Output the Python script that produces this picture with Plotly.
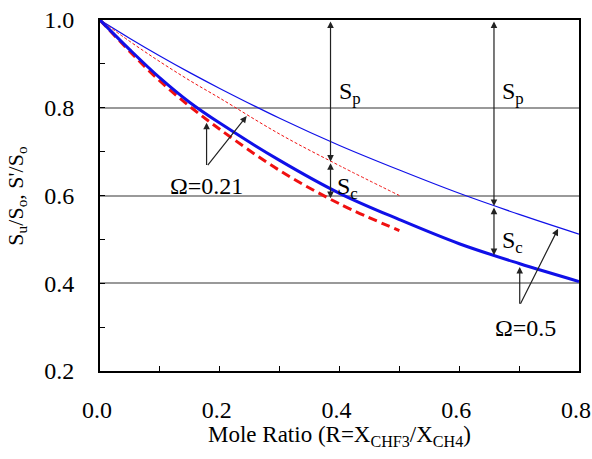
import plotly.graph_objects as go

# ---- data ----
R_full = [0.0, 0.05, 0.1, 0.15, 0.2, 0.3, 0.4, 0.5, 0.6, 0.7, 0.8]
Su_omega05 = [1.0, 0.932, 0.868, 0.812, 0.765, 0.680, 0.605, 0.545, 0.490, 0.445, 0.404]
Sp_omega05 = [1.0, 0.958, 0.918, 0.880, 0.844, 0.776, 0.714, 0.658, 0.605, 0.557, 0.512]

R_half = [0.0, 0.05, 0.1, 0.15, 0.2, 0.3, 0.4, 0.5]
Su_omega021 = [1.0, 0.928, 0.861, 0.803, 0.751, 0.657, 0.581, 0.520]
Sp_omega021 = [1.0, 0.951, 0.905, 0.862, 0.822, 0.740, 0.668, 0.600]

x_ticks = [0.0, 0.2, 0.4, 0.6, 0.8]
y_ticks = [0.2, 0.4, 0.6, 0.8, 1.0]

FONT = "Liberation Serif"
BLUE = "#1010e8"
RED = "#f01010"

fig = go.Figure()
fig.add_trace(go.Scatter(x=R_full, y=Sp_omega05, mode="lines", line=dict(color=BLUE, width=1.2, shape="spline")))
fig.add_trace(go.Scatter(x=R_half, y=Sp_omega021, mode="lines", line=dict(color=RED, width=1, dash="3px,2px", shape="spline")))
fig.add_trace(go.Scatter(x=R_half, y=Su_omega021, mode="lines", line=dict(color=RED, width=3, dash="9px,5px", shape="spline")))
fig.add_trace(go.Scatter(x=R_full, y=Su_omega05, mode="lines", line=dict(color=BLUE, width=3, shape="spline")))

ann = []

def arrow(x0, y0, x1, y1, both=False):
    ann.append(dict(x=x1, y=y1, ax=x0, ay=y0, xref="x", yref="y", axref="x", ayref="y",
                    text="", showarrow=True, arrowhead=2, arrowsize=1.1, arrowwidth=1.2,
                    arrowcolor="#222", standoff=0, startstandoff=0,
                    arrowside="end+start" if both else "end", startarrowhead=2, startarrowsize=1.1))

def label(x, y, t, anchor="left"):
    ann.append(dict(x=x, y=y, xref="x", yref="y", text=t, showarrow=False, xanchor=anchor,
                    yanchor="middle", font=dict(family=FONT, size=24, color="black")))

# Sp / Sc double arrows, Omega = 0.21
arrow(0.385, 1.0, 0.385, 0.677, both=True)
arrow(0.385, 0.677, 0.385, 0.594, both=True)
label(0.395, 0.834, "S<sub>p</sub>")
label(0.393, 0.617, "S<sub>c</sub>")
# Sp / Sc double arrows, Omega = 0.5
arrow(0.658, 1.0, 0.658, 0.576, both=True)
arrow(0.658, 0.576, 0.658, 0.464, both=True)
label(0.668, 0.834, "S<sub>p</sub>")
label(0.668, 0.494, "S<sub>c</sub>")
# Omega labels with pointers
arrow(0.178, 0.666, 0.178, 0.766)
arrow(0.178, 0.666, 0.245, 0.781)
label(0.178, 0.622, "Ω=0.21", anchor="center")
arrow(0.701, 0.350, 0.701, 0.437)
arrow(0.701, 0.350, 0.765, 0.524)
label(0.71, 0.298, "Ω=0.5", anchor="center")

# axis titles
ann.append(dict(x=0.5, y=-0.185, xref="paper", yref="paper", showarrow=False,
                text="Mole Ratio (R=X<sub>CHF3</sub>/X<sub>CH4</sub>)",
                font=dict(family=FONT, size=23, color="black"), xanchor="center", yanchor="middle"))
ann.append(dict(x=-0.175, y=0.5, xref="paper", yref="paper", showarrow=False, textangle=-90,
                text="S<sub>u</sub>/S<sub>o</sub>, S'/S<sub>o</sub>",
                font=dict(family=FONT, size=22, color="black"), xanchor="center", yanchor="middle"))

fig.update_layout(
    width=592, height=459, showlegend=False,
    margin=dict(l=100, r=13, t=20, b=88, autoexpand=False),
    paper_bgcolor="white", plot_bgcolor="white",
    font=dict(family=FONT, size=24, color="black"),
    annotations=ann,
)
fig.update_xaxes(range=[0, 0.8], tickvals=x_ticks, ticktext=[f"{v:.1f}" for v in x_ticks],
                 tickfont=dict(family=FONT, size=24),
                 showgrid=False, zeroline=False, showline=True, linecolor="black", linewidth=2,
                 mirror=True, ticks="inside", ticklen=5, tickcolor="black", tickwidth=1,
                 minor=dict(dtick=0.1, ticks="inside", ticklen=5, tickcolor="black", tickwidth=1, showgrid=False),
                 ticklabelstandoff=16, ticklabelshift=-3, automargin=False, ticklabeloverflow="allow")
fig.update_yaxes(range=[0.2, 1.0], tickvals=y_ticks, ticktext=[f"{v:.1f}" for v in y_ticks],
                 tickfont=dict(family=FONT, size=24),
                 showgrid=True, gridcolor="#999999", gridwidth=1.5, zeroline=False,
                 showline=True, linecolor="black", linewidth=2, mirror=True,
                 ticks="inside", ticklen=5, tickcolor="black", tickwidth=1,
                 minor=dict(tick0=0.2, dtick=0.1, ticks="inside", ticklen=5, tickcolor="black", tickwidth=1, showgrid=False),
                 ticklabelstandoff=19, automargin=False, ticklabeloverflow="allow")

fig.write_html("out.html")
